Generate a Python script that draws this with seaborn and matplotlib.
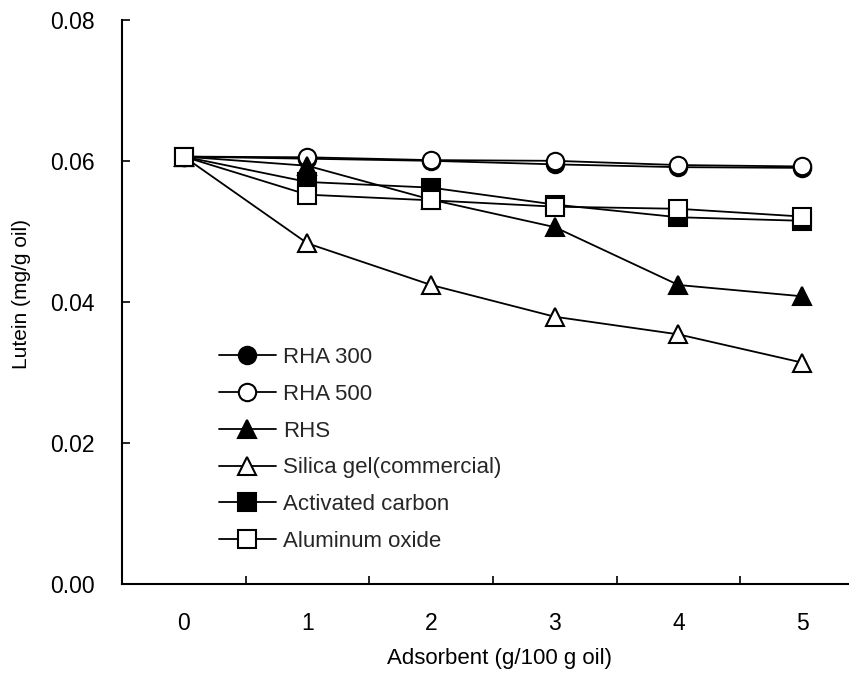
import matplotlib
matplotlib.use("Agg")
import matplotlib.pyplot as plt
import seaborn as sns
import pandas as pd

sns.set_theme(style="white")
plt.rcParams["font.family"] = ["Liberation Sans", "DejaVu Sans"]

dose = [0, 1, 2, 3, 4, 5]
rha300 = [0.0606, 0.0603, 0.0600, 0.0595, 0.0591, 0.0590]
rha500 = [0.0606, 0.0605, 0.0601, 0.0600, 0.0594, 0.0592]
rhs = [0.0606, 0.0593, 0.0545, 0.0506, 0.0424, 0.0408]
silica = [0.0606, 0.0483, 0.0424, 0.0379, 0.0354, 0.0314]
carbon = [0.0606, 0.0570, 0.0562, 0.0538, 0.0520, 0.0515]
alumina = [0.0606, 0.0552, 0.0544, 0.0535, 0.0532, 0.0521]

names = ["RHA 300", "RHA 500", "RHS", "Silica gel(commercial)",
         "Activated carbon", "Aluminum oxide"]
series = [rha300, rha500, rhs, silica, carbon, alumina]
markers = ["o", "o", "^", "^", "s", "s"]
fills = ["black", "white", "black", "white", "black", "white"]

df = pd.concat(
    [pd.DataFrame({"dose": dose, "lutein": v, "adsorbent": n})
     for n, v in zip(names, series)],
    ignore_index=True,
)

TICK_FS = 16.5
LABEL_FS = 16

fig = plt.figure(figsize=(8.59, 6.8), dpi=100)
ax = fig.add_axes([0.142, 0.141, 0.845, 0.830])

for n, m, fc in zip(names, markers, fills):
    sub = df[df["adsorbent"] == n]
    sns.lineplot(data=sub, x="dose", y="lutein", ax=ax, color="black",
                 linewidth=1.3, marker=m, markersize=12.5,
                 markerfacecolor=fc, markeredgecolor="black",
                 markeredgewidth=1.5, label=n)

ax.set_xlim(-0.5, 5.37)
ax.set_ylim(0, 0.08)
ax.set_yticks([0.0, 0.02, 0.04, 0.06, 0.08])
ax.set_yticklabels(["0.00", "0.02", "0.04", "0.06", "0.08"])
ax.set_xticks(dose)
ax.set_xticklabels([str(d) for d in dose])
ax.set_xticks([0.5, 1.5, 2.5, 3.5, 4.5], minor=True)

ax.tick_params(axis="x", which="major", length=0, pad=20,
               labelsize=TICK_FS, colors="black")
ax.tick_params(axis="x", which="minor", direction="in", length=6,
               width=1.2, color="black", bottom=True)
ax.tick_params(axis="y", which="major", direction="in", length=6,
               width=1.2, pad=19.5, labelsize=TICK_FS, colors="black",
               left=True)

for side in ["top", "right"]:
    ax.spines[side].set_visible(False)
for side in ["left", "bottom"]:
    ax.spines[side].set_color("black")
    ax.spines[side].set_linewidth(1.5)

ax.set_xlabel("Adsorbent (g/100 g oil)", fontsize=LABEL_FS, color="black")
ax.set_ylabel("Lutein (mg/g oil)", fontsize=15, color="black")
ax.xaxis.set_label_coords(0.52, -0.113)
ax.yaxis.set_label_coords(-0.125, 0.514)

leg = ax.legend(loc="upper left", bbox_to_anchor=(0.133, 0.420),
                frameon=False, fontsize=LABEL_FS, handlelength=2.57,
                handletextpad=0.32, labelspacing=0.71, borderaxespad=0,
                borderpad=0)

fig.savefig("out.png", dpi=100)
